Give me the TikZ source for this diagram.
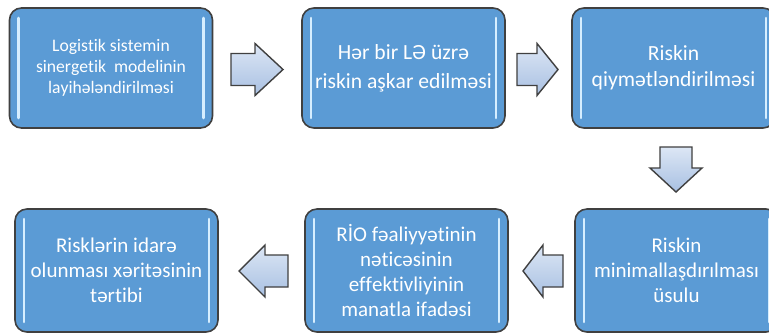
\documentclass[tikz,border=0pt]{standalone}
\usepackage{fontspec}
\setmainfont{Carlito}[Ligatures={NoCommon,NoContextual,NoRequired},Contextuals=NoAlternate,Kerning=Off]
\usepackage{tikz}

\definecolor{boxblue}{RGB}{91,155,213}
\definecolor{boxline}{RGB}{64,64,64}
\definecolor{arrowblue}{RGB}{197,214,238}
\definecolor{arrowdark}{RGB}{168,192,226}
\definecolor{glowline}{RGB}{214,238,255}

\tikzset{
	stagebox/.style={draw=boxline, line width=0.8pt, fill=boxblue, rounded corners=6pt,
		minimum width=101.5pt, minimum height=60pt, inner sep=2pt, align=center,
		text=white, font=\fontsize{10.5}{12.5}\selectfont,
		path picture={
			\draw[glowline, line width=1.3pt, line cap=round]
				([xshift=4.5pt,yshift=5pt]path picture bounding box.south west) --
				([xshift=4.5pt,yshift=-5pt]path picture bounding box.north west);
			\draw[glowline, line width=1.3pt, line cap=round]
				([xshift=-4.5pt,yshift=5pt]path picture bounding box.south east) --
				([xshift=-4.5pt,yshift=-5pt]path picture bounding box.north east);
		}},
	flowarrow/.style={draw=boxline, line width=0.7pt, line join=miter,
		top color=arrowblue!60!white, bottom color=arrowdark}
}

% block arrow: #1 centre, #2 angle, #3 shaft length, #4 head length
\newcommand{\flowarr}[4]{%
	\draw[flowarrow, shift={#1}, rotate=#2]
		({-(#3+#4)/2},-16)--({(#3-#4)/2},-16)--({(#3-#4)/2},-26)--({(#3+#4)/2},0)
		--({(#3-#4)/2},26)--({(#3-#4)/2},16)--({-(#3+#4)/2},16)--cycle;}

\begin{document}
\begin{tikzpicture}[x=0.5pt,y=-0.5pt]

	\useasboundingbox[fill=white] (0,0) rectangle (769,334);
	\clip (0,0) rectangle (769,334);

	%\draw[step=50,gray,very thin] (0,0) grid (769,334);

	% top row
	\node[stagebox, font=\fontsize{8.8}{10.5}\selectfont] (design) at (111,68)
		{Logistik sistemin\\sinergetik\ \ modelinin\\layihələndirilməsi};
	\node[stagebox, font=\fontsize{10.8}{14.5}\selectfont] (detect) at (403.5,68)
		{Hər bir LƏ üzrə\\riskin aşkar edilməsi};
	\node[stagebox, font=\fontsize{10.8}{13}\selectfont] (evaluate) at (673.5,68)
		{Riskin\\qiymətləndirilməsi};

	% bottom row
	\node[stagebox, minimum height=61.5pt] (minimize) at (676.5,270.5)
		{Riskin\\minimallaşdırılması\\üsulu};
	\node[stagebox, minimum height=61.5pt] (effect) at (406.5,270.5)
		{RİO fəaliyyətinin\\nəticəsinin\\effektivliyinin\\manatla ifadəsi};
	\node[stagebox, minimum height=61.5pt] (riskmap) at (116.5,270.5)
		{Risklərin idarə\\olunması xəritəsinin\\tərtibi};

	% arrows between the boxes
	\flowarr{(257,69.5)}{0}{24}{28}
	\flowarr{(537.5,69.5)}{0}{20}{21}
	\flowarr{(676,169.5)}{-90}{21}{24}
	\flowarr{(543,271)}{180}{20}{20}
	\flowarr{(263.5,271)}{180}{23}{26}

\end{tikzpicture}
\end{document}
